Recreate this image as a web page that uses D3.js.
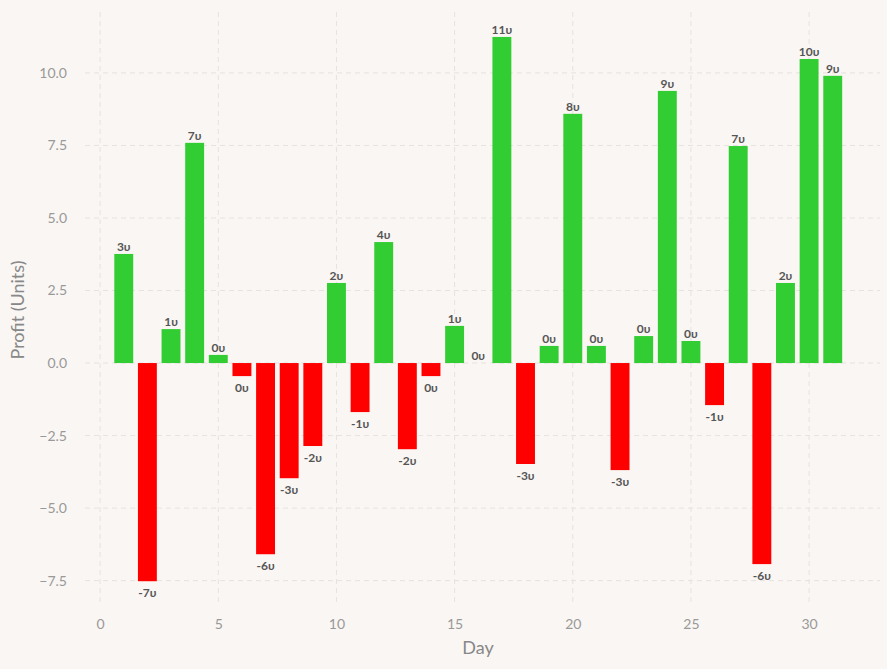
<!DOCTYPE html>
<html><head><meta charset="utf-8">
<script src="https://cdn.jsdelivr.net/npm/d3@7"></script>
<style>body{margin:0;background:#faf6f3}svg{display:block}</style>
</head><body><svg id="c" width="887" height="669"></svg>
<script>
const days = d3.range(1, 32);
const profits = [3.76,-7.52,1.17,7.59,0.28,-0.45,-6.59,-3.97,-2.86,2.76,-1.69,4.17,-2.97,-0.45,1.28,0,11.24,-3.48,0.59,8.59,0.59,-3.69,0.93,9.38,0.76,-1.45,7.48,-6.93,2.76,10.48,9.9];
const xTicks = [0,5,10,15,20,25,30];
const yTicks = [-7.5,-5,-2.5,0,2.5,5,7.5,10];

const svg = d3.select("#c");
const font = "Lato, 'DejaVu Sans', sans-serif";
const x = d3.scaleLinear().domain([-0.64, 33]).range([85, 880]);
const y = d3.scaleLinear().domain([-8.34, 12.1]).range([605, 12]);

const g = svg.append("g");
g.selectAll(".gy").data(yTicks).join("line")
  .attr("x1", 85).attr("x2", 880).attr("y1", d=>y(d)).attr("y2", d=>y(d))
  .attr("stroke", "#e6e2df").attr("stroke-dasharray", "5,4");
g.selectAll(".gx").data(xTicks).join("line")
  .attr("y1", 12).attr("y2", 605).attr("x1", d=>x(d)).attr("x2", d=>x(d))
  .attr("stroke", "#e6e2df").attr("stroke-dasharray", "5,4");

const bw = x(0.8) - x(0);
g.selectAll("rect").data(days).join("rect")
  .attr("x", (d)=>x(d) - bw/2).attr("width", bw)
  .attr("y", (d,i)=>y(Math.max(0, profits[i])))
  .attr("height", (d,i)=>Math.abs(y(profits[i]) - y(0)))
  .attr("fill", (d,i)=>profits[i] >= 0 ? "#32cd32" : "#ff0000");

g.selectAll(".lbl").data(days).join("text")
  .attr("x", d=>x(d)).attr("text-anchor", "middle")
  .attr("y", (d,i)=>profits[i] >= 0 ? y(profits[i]) - 3 : y(profits[i]) + 16)
  .attr("font-family", font).attr("font-weight", "bold").attr("font-size", 12)
  .attr("fill", "#555")
  .text((d,i)=>Math.trunc(profits[i]) + "υ");

const xa = svg.append("g").attr("transform", "translate(0,605)")
  .call(d3.axisBottom(x).tickValues(xTicks).tickSize(0).tickPadding(14).tickFormat(d3.format("d")));
const ya = svg.append("g").attr("transform", "translate(85,0)")
  .call(d3.axisLeft(y).tickValues(yTicks).tickSize(0).tickPadding(18).tickFormat(d3.format(".1f")));
[xa, ya].forEach(a => {
  a.select(".domain").remove();
  a.selectAll("text").attr("font-family", font).attr("font-size", 14).attr("fill", "#999");
});
ya.selectAll("text").text(d => d < 0 ? "\u2212" + Math.abs(d).toFixed(1) : d.toFixed(1));

svg.append("text").attr("x", 478).attr("y", 654).attr("text-anchor", "middle")
  .attr("font-family", font).attr("font-size", 18).attr("fill", "#888").text("Day");
svg.append("text").attr("transform", "translate(24,310) rotate(-90)").attr("text-anchor", "middle")
  .attr("font-family", font).attr("font-size", 18).attr("fill", "#888").text("Profit (Units)");
</script></body></html>
